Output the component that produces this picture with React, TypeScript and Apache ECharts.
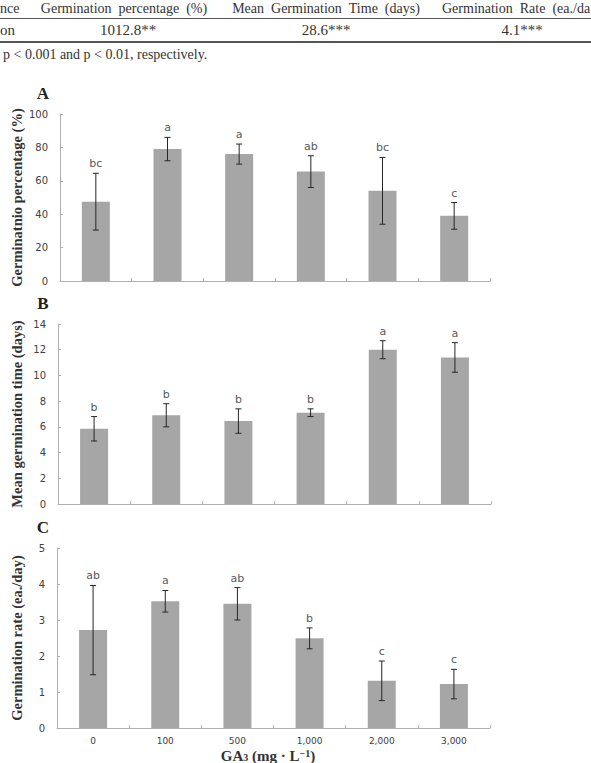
import React, { useEffect, useRef } from "react";
import * as echarts from "echarts";

const categories = ["0", "100", "500", "1,000", "2,000", "3,000"];

const germPct = [47.5, 79, 76, 65.5, 54, 39];
const germPctErr = [17, 7, 6, 9.5, 20, 8];
const germPctLetters = ["bc", "a", "a", "ab", "bc", "c"];

const mgt = [5.85, 6.9, 6.45, 7.1, 12.0, 11.4];
const mgtErr = [0.95, 0.9, 0.95, 0.3, 0.7, 1.15];
const mgtLetters = ["b", "b", "b", "b", "a", "a"];

const rate = [2.72, 3.52, 3.45, 2.49, 1.31, 1.22];
const rateErr = [1.24, 0.3, 0.45, 0.29, 0.55, 0.41];
const rateLetters = ["ab", "a", "ab", "b", "c", "c"];

const tableHeader = ["nce", "Germination percentage (%)", "Mean Germination Time (days)", "Germination Rate (ea./da"];
const tableRow = ["on", "1012.8**", "28.6***", "4.1***"];
const footnote = "p < 0.001 and p < 0.01, respectively.";

const panels = [
  { letter: "A", title: "Germinatnio percentage (%)", values: germPct, errs: germPctErr, letters: germPctLetters, max: 100, interval: 20, grid: { left: 60, top: 114, width: 430, height: 167 } },
  { letter: "B", title: "Mean germination time (days)", values: mgt, errs: mgtErr, letters: mgtLetters, max: 14, interval: 2, grid: { left: 58, top: 324, width: 433, height: 180 } },
  { letter: "C", title: "Germination rate (ea./day)", values: rate, errs: rateErr, letters: rateLetters, max: 5, interval: 1, grid: { left: 57, top: 548, width: 433, height: 180 } },
];

const SERIF = "'Liberation Serif', 'Times New Roman', serif";
const SANS = "'DejaVu Sans', Verdana, sans-serif";
const wide = (s: string) => s.split(" ").join("\u2002");

export default function App() {
  const ref = useRef<HTMLDivElement>(null);
  useEffect(() => {
    if (!ref.current) return;
    const chart = echarts.init(ref.current, null, { renderer: "svg" });

    const grids: any[] = [];
    const xAxes: any[] = [];
    const yAxes: any[] = [];
    const series: any[] = [];
    const graphics: any[] = [];

    panels.forEach((p, i) => {
      grids.push({ ...p.grid, containLabel: false });
      xAxes.push({
        type: "category",
        gridIndex: i,
        data: categories,
        axisLine: { lineStyle: { color: "#b0b0b0", width: 1 } },
        axisTick: { show: true, inside: true, length: 3, lineStyle: { color: "#b0b0b0" } },
        axisLabel: { show: i === 2, fontFamily: SANS, fontSize: 9, color: "#404040", margin: 8 },
      });
      yAxes.push({
        type: "value",
        gridIndex: i,
        min: 0,
        max: p.max,
        interval: p.interval,
        axisLine: { show: true, lineStyle: { color: "#b0b0b0", width: 1 } },
        axisTick: { show: true, inside: true, length: 3, lineStyle: { color: "#b0b0b0" } },
        splitLine: { show: false },
        axisLabel: { fontFamily: SANS, fontSize: 10, color: "#404040", margin: 12 },
      });
      series.push({
        type: "bar",
        xAxisIndex: i,
        yAxisIndex: i,
        data: p.values,
        barWidth: 28,
        itemStyle: { color: "#a6a6a6" },
        silent: true,
      });
      const letters = p.letters;
      series.push({
        type: "custom",
        xAxisIndex: i,
        yAxisIndex: i,
        data: p.values.map((v, k) => [k, v - p.errs[k], v + p.errs[k]]),
        renderItem: (params: any, api: any) => {
          const idx = api.value(0);
          const hi = api.coord([idx, api.value(2)]);
          const lo = api.coord([idx, api.value(1)]);
          const cap = 3;
          const st = { stroke: "#262626", lineWidth: 1 };
          return {
            type: "group",
            children: [
              { type: "line", shape: { x1: hi[0], y1: hi[1], x2: lo[0], y2: lo[1] }, style: st },
              { type: "line", shape: { x1: hi[0] - cap, y1: hi[1], x2: hi[0] + cap, y2: hi[1] }, style: st },
              { type: "line", shape: { x1: lo[0] - cap, y1: lo[1], x2: lo[0] + cap, y2: lo[1] }, style: st },
              {
                type: "text",
                style: {
                  text: letters[params.dataIndex],
                  x: hi[0],
                  y: hi[1] - 4,
                  textAlign: "center",
                  textVerticalAlign: "bottom",
                  fill: "#595959",
                  font: `11px ${SANS}`,
                },
              },
            ],
          };
        },
        silent: true,
        z: 5,
      });
      const cy = p.grid.top + p.grid.height / 2;
      graphics.push({
        type: "text",
        x: 17,
        y: cy,
        rotation: Math.PI / 2,
        style: { text: p.title, textAlign: "center", textVerticalAlign: "middle", fill: "#333", font: `bold 14.5px ${SERIF}` },
      });
      graphics.push({
        type: "text",
        x: 43,
        y: p.grid.top - 21,
        style: { text: p.letter, textAlign: "center", textVerticalAlign: "middle", fill: "#222", font: `bold 17px ${SERIF}` },
      });
    });

    // x-axis title
    graphics.push({
      type: "text",
      x: 268,
      y: 755.5,
      style: {
        text: "{n|GA}{s|3}{n| (mg · L}{p|−1}{n|)}",
        textAlign: "center",
        textVerticalAlign: "middle",
        rich: {
          n: { fontFamily: SERIF, fontWeight: "bold", fontSize: 15, lineHeight: 14, fill: "#333", color: "#333" },
          s: { fontFamily: SERIF, fontWeight: "bold", fontSize: 10, lineHeight: 10, padding: [4, 0, 0, 0], verticalAlign: "bottom", fill: "#333", color: "#333" },
          p: { fontFamily: SERIF, fontWeight: "bold", fontSize: 10, lineHeight: 10, padding: [0, 0, 4, 0], verticalAlign: "top", fill: "#333", color: "#333" },
        },
      },
    });

    // table on top
    const headerX = [0, 124, 326, 442];
    const headerAlign = ["left", "center", "center", "left"];
    tableHeader.forEach((t, k) => {
      graphics.push({
        type: "text",
        x: headerX[k],
        y: 8,
        style: { text: wide(t), textAlign: headerAlign[k], textVerticalAlign: "middle", fill: "#333", font: `14px ${SERIF}` },
      });
    });
    const rowX = [0, 128, 326, 522];
    const rowAlign = ["left", "center", "center", "center"];
    tableRow.forEach((t, k) => {
      graphics.push({
        type: "text",
        x: rowX[k],
        y: 30,
        style: { text: t, textAlign: rowAlign[k], textVerticalAlign: "middle", fill: "#333", font: `15px ${SERIF}` },
      });
    });
    graphics.push({ type: "line", shape: { x1: 0, y1: 18.5, x2: 591, y2: 18.5 }, style: { stroke: "#555", lineWidth: 1 } });
    graphics.push({ type: "line", shape: { x1: 0, y1: 42, x2: 591, y2: 42 }, style: { stroke: "#555", lineWidth: 2 } });
    graphics.push({
      type: "text",
      x: 3,
      y: 54,
      style: { text: footnote, textAlign: "left", textVerticalAlign: "middle", fill: "#333", font: `14px ${SERIF}` },
    });

    chart.setOption({
      animation: false,
      backgroundColor: "#ffffff",
      grid: grids,
      xAxis: xAxes,
      yAxis: yAxes,
      series,
      graphic: graphics,
    });
    return () => chart.dispose();
  }, []);
  return <div ref={ref} style={{ position: "absolute", left: 0, top: 0, width: 591, height: 763 }} />;
}
